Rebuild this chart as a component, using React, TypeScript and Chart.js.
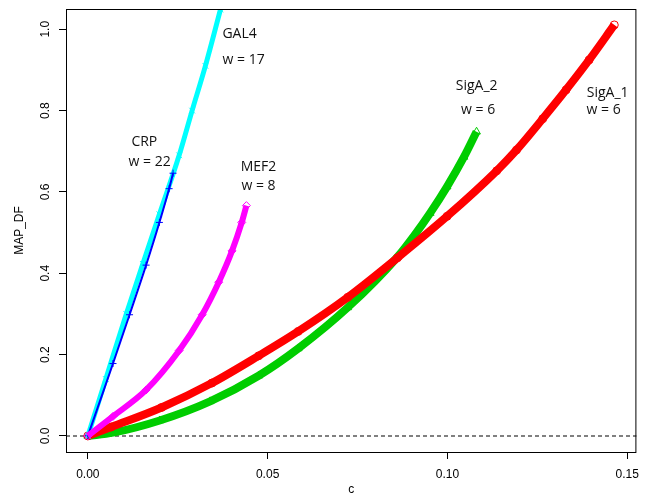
import { useEffect, useRef } from 'react';
import { Chart, registerables } from 'chart.js';

Chart.register(...registerables);

// ---- axis ticks ----
const xTicks = [0, 0.05, 0.1, 0.15];
const yTicks = [0, 0.2, 0.4, 0.6, 0.8, 1.0];

// ---- series (c, MAP_DF) ----
const sigA1C = [0, 0.0065, 0.0205, 0.0345, 0.0475, 0.0585, 0.0723, 0.0861, 0.0999, 0.1137, 0.1192, 0.1265, 0.133, 0.1394, 0.1464];
const sigA1Y = [0, 0.022, 0.07, 0.13, 0.197, 0.257, 0.341, 0.438, 0.54, 0.652, 0.703, 0.78, 0.851, 0.9245, 1.0106];

const sigA2C = [0, 0.007, 0.02, 0.034, 0.0475, 0.0585, 0.0723, 0.0861, 0.0908, 0.0952, 0.0999, 0.1046, 0.1081];
const sigA2Y = [0, 0.008, 0.038, 0.085, 0.148, 0.215, 0.316, 0.44, 0.493, 0.548, 0.613, 0.686, 0.748];

const mef2C = [0, 0.007, 0.0162, 0.0254, 0.0318, 0.0364, 0.0401, 0.0428, 0.0441];
const mef2Y = [0, 0.048, 0.113, 0.21, 0.298, 0.378, 0.455, 0.525, 0.5663];

const crpC = [0, 0.007, 0.0116, 0.0162, 0.0199, 0.0226, 0.0237];
const crpY = [0, 0.178, 0.298, 0.42, 0.525, 0.608, 0.646];

const gal4C = [0, 0.005, 0.0107, 0.0153, 0.0199, 0.0254, 0.029, 0.0327, 0.0369];
const gal4Y = [0, 0.14, 0.3, 0.423, 0.545, 0.69, 0.8, 0.91, 1.049];

// ---- text annotations ----
const labelTexts = ['GAL4', 'w = 17', 'CRP', 'w = 22', 'MEF2', 'w = 8', 'SigA_2', 'w = 6', 'SigA_1', 'w = 6'];
const labelC = [0.04221, 0.04331, 0.01571, 0.01717, 0.04745, 0.04745, 0.10814, 0.10855, 0.14455, 0.14345];
const labelY = [0.9884, 0.9245, 0.7237, 0.6745, 0.6614, 0.6147, 0.8606, 0.8016, 0.8426, 0.8016];

const pts = (c: number[], y: number[]) => c.map((v, i) => ({ x: v, y: y[i] }));

const rPlugin = {
  id: 'rstyle',
  beforeDatasetsDraw(chart: any) {
    const { ctx, chartArea, scales } = chart;
    const py = Math.round(scales.y.getPixelForValue(0));
    ctx.save();
    ctx.strokeStyle = '#808080';
    ctx.lineWidth = 2;
    ctx.setLineDash([4, 3]);
    ctx.beginPath();
    ctx.moveTo(chartArea.left, py);
    ctx.lineTo(chartArea.right, py);
    ctx.stroke();
    ctx.restore();
  },
  afterDraw(chart: any) {
    const { ctx, chartArea, scales } = chart;
    ctx.save();
    // box
    ctx.strokeStyle = '#000';
    ctx.lineWidth = 1;
    ctx.strokeRect(chartArea.left + 0.5, chartArea.top + 0.5, chartArea.right - chartArea.left - 1, chartArea.bottom - chartArea.top);
    // y tick labels (rotated, R style)
    ctx.fillStyle = '#000';
    ctx.font = '12px "Liberation Sans", Arial, sans-serif';
    ctx.textAlign = 'center';
    ctx.textBaseline = 'middle';
    yTicks.forEach((v) => {
      const py = scales.y.getPixelForValue(v);
      ctx.save();
      ctx.translate(45.5, py);
      ctx.rotate(-Math.PI / 2);
      ctx.fillText(v.toFixed(1), 0, 0);
      ctx.restore();
    });
    // annotations
    ctx.fillStyle = '#111';
    ctx.font = '14px "Open Sans", sans-serif';
    labelTexts.forEach((t, i) => {
      ctx.fillText(t, scales.x.getPixelForValue(labelC[i]), scales.y.getPixelForValue(labelY[i]));
    });
    ctx.restore();
  },
};

function mk(label: string, c: number[], y: number[], color: string, style: string, lw: number, r: number, order: number) {
  return {
    label,
    data: pts(c, y),
    showLine: true,
    borderColor: color,
    borderWidth: lw,
    pointStyle: style,
    pointRadius: r,
    pointBorderColor: color,
    pointBackgroundColor: 'rgba(0,0,0,0)',
    pointBorderWidth: 1,
    cubicInterpolationMode: 'monotone',
    fill: false,
    clip: 0,
    order,
  };
}

export default function App() {
  const ref = useRef<HTMLCanvasElement | null>(null);
  useEffect(() => {
    document.body.style.margin = '0';
    if (!ref.current) return;
    const chart = new Chart(ref.current, {
      type: 'scatter',
      data: {
        datasets: [
          mk('MEF2', mef2C, mef2Y, '#FF00FF', 'rectRot', 6, 4, 1),
          mk('CRP', crpC, crpY, '#0000FF', 'cross', 2, 3.5, 2),
          mk('GAL4', gal4C, gal4Y, '#00FFFF', 'crossRot', 5, 4, 3),
          mk('SigA_1', sigA1C, sigA1Y, '#FF0000', 'circle', 8, 4, 4),
          mk('SigA_2', sigA2C, sigA2Y, '#00CD00', 'triangle', 8, 4.5, 5),
        ] as any,
      },
      options: {
        animation: false,
        responsive: false,
        events: [],
        layout: { padding: { top: 9, right: 6, left: 0, bottom: 0 } },
        plugins: { legend: { display: false }, tooltip: { enabled: false } },
        scales: {
          x: {
            type: 'linear',
            min: -0.00607,
            max: 0.15255,
            afterBuildTicks: (s: any) => { s.ticks = xTicks.map((v) => ({ value: v })); },
            afterFit: (s: any) => { s.height = 45; },
            ticks: {
              padding: 8,
              color: '#000',
              font: { family: '"Liberation Sans", Arial, sans-serif', size: 12 },
              callback: (v: any) => Number(v).toFixed(2),
              maxRotation: 0,
              autoSkip: false,
            },
            grid: { display: true, drawOnChartArea: false, drawTicks: true, tickLength: 7, color: '#000', lineWidth: 1 },
            border: { display: false },
            title: {
              display: true,
              text: 'c',
              color: '#000',
              font: { family: '"Liberation Sans", Arial, sans-serif', size: 12 },
              padding: { top: 0, bottom: 0 },
            },
          },
          y: {
            type: 'linear',
            min: -0.0395,
            max: 1.0498,
            afterBuildTicks: (s: any) => { s.ticks = yTicks.map((v) => ({ value: v })); },
            afterFit: (s: any) => { s.width = 66; },
            ticks: { display: false },
            grid: { display: true, drawOnChartArea: false, drawTicks: true, tickLength: 7, color: '#000', lineWidth: 1 },
            border: { display: false },
            title: {
              display: true,
              text: 'MAP_DF',
              color: '#000',
              font: { family: '"Liberation Sans", Arial, sans-serif', size: 12 },
              padding: { top: 12, bottom: 0 },
            },
          },
        },
      } as any,
      plugins: [rPlugin],
    });
    return () => chart.destroy();
  }, []);
  return (
    <div style={{ position: 'absolute', left: 0, top: 0, width: 647, height: 497 }}>
      <canvas ref={ref} width={647} height={497} style={{ width: 647, height: 497 }} />
    </div>
  );
}
